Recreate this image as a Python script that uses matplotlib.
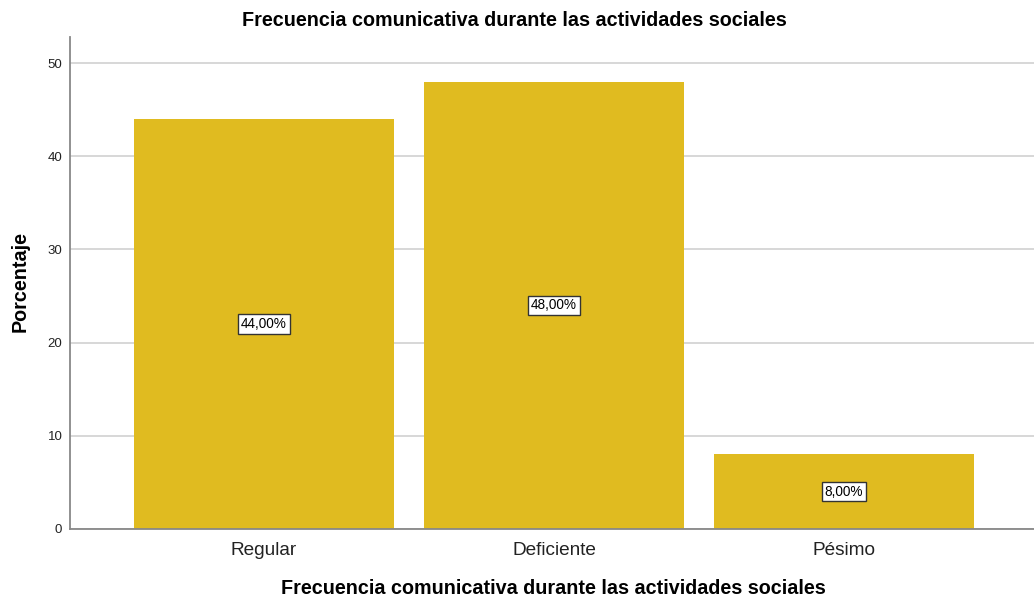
import matplotlib
matplotlib.use("Agg")
import matplotlib.pyplot as plt

categories = ["Regular", "Deficiente", "Pésimo"]
percentages = [44.0, 48.0, 8.0]
value_labels = ["44,00%", "48,00%", "8,00%"]
yticks = [0, 10, 20, 30, 40, 50]

plt.rcParams['font.family'] = ['Liberation Sans', 'DejaVu Sans']

fig = plt.figure(figsize=(10.34, 5.98), dpi=100)
ax = fig.add_axes([0.0677, 0.1154, 0.9323, 0.8226])

x = range(len(categories))
ax.bar(x, percentages, width=0.897, color="#e0bb20", zorder=2)

# labels in the middle of each bar
for i, (v, lab) in enumerate(zip(percentages, value_labels)):
    ax.text(i, v / 2, lab, ha="center", va="center", fontsize=9.8, zorder=3,
            bbox=dict(boxstyle="square,pad=0.2", fc="white", ec="#333333", lw=1))

ax.set_xlim(-0.669, 2.655)
ax.set_ylim(0, 52.8)
ax.set_yticks(yticks)
ax.set_xticks(list(x))
ax.set_xticklabels(categories, fontsize=13.7, color="#222222")
ax.tick_params(axis="x", length=0, pad=9.5)
ax.tick_params(axis="y", length=0, labelsize=9.5, pad=5.5, colors="#222222")
ax.yaxis.grid(True, color="#d4d4d4", lw=1.3, zorder=0)
ax.set_axisbelow(True)

for s in ["top", "right"]:
    ax.spines[s].set_visible(False)
ax.spines["left"].set_color("#888888")
ax.spines["bottom"].set_color("#888888")
ax.spines["left"].set_linewidth(1.3)
ax.spines["bottom"].set_linewidth(1.3)

fig.text(0.4975, 1 - 20 / 598, "Frecuencia comunicativa durante las actividades sociales",
         ha="center", va="center", fontsize=14.2, fontweight="bold")
fig.text(0.5355, 1 - 588 / 598, "Frecuencia comunicativa durante las actividades sociales",
         ha="center", va="center", fontsize=14.2, fontweight="bold")
fig.text(20 / 1034, 1 - 282 / 598, "Porcentaje", rotation=90,
         ha="center", va="center", fontsize=14.2, fontweight="bold")

fig.savefig("out.png", dpi=100)
